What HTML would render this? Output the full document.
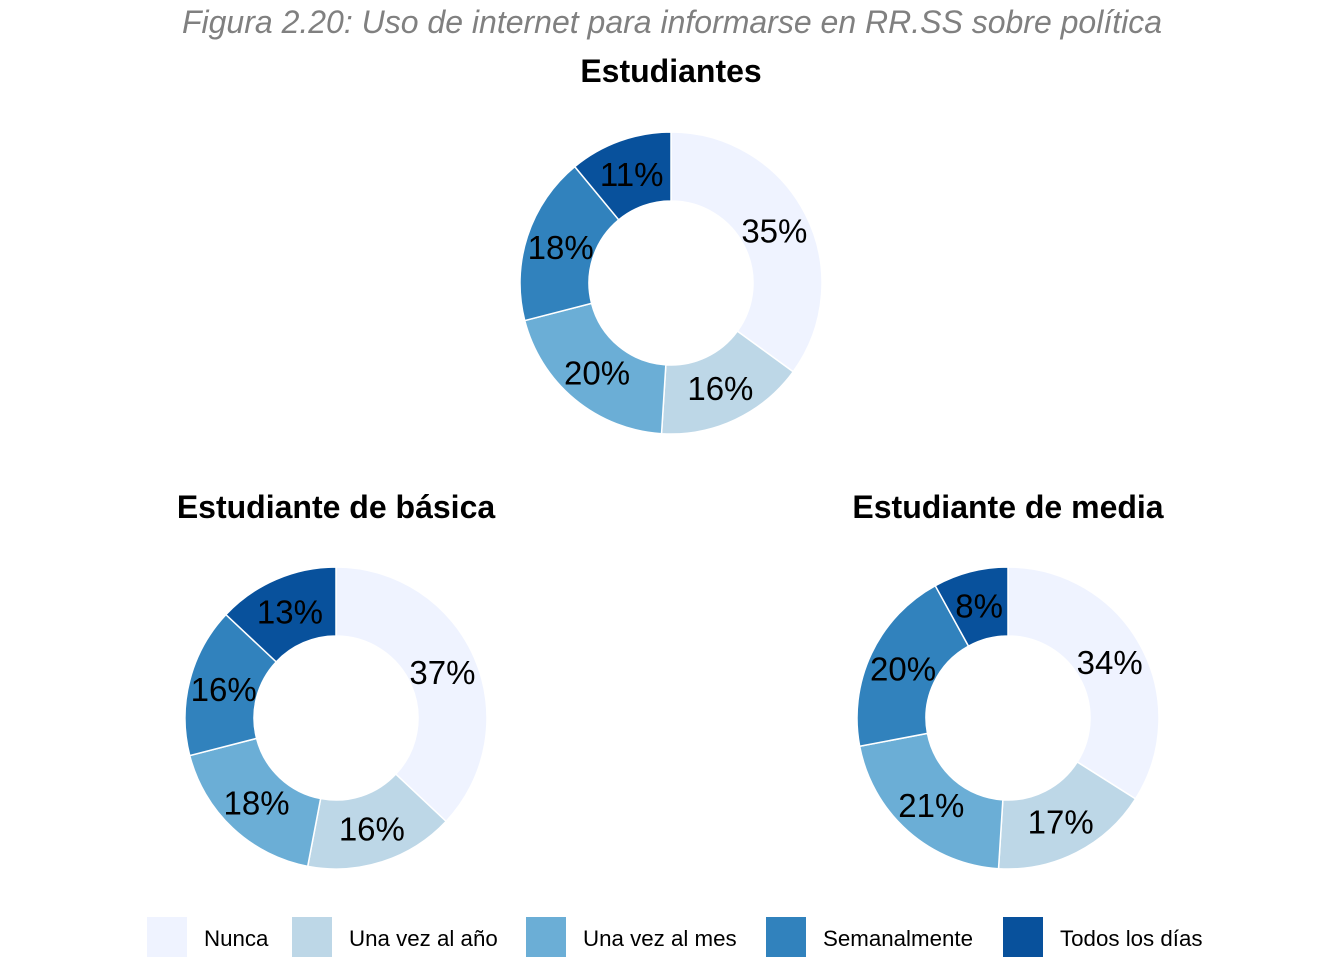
<!DOCTYPE html>
<html><head><meta charset="utf-8"><style>
body{margin:0;background:#fff;}
svg{display:block;font-family:"Liberation Sans",Arial,sans-serif;}
</style></head><body>
<svg id="c" width="1344" height="960">
<text x="672" y="33" text-anchor="middle" font-size="32" font-style="italic" fill="#808080">Figura 2.20: Uso de internet para informarse en RR.SS sobre política</text>
</svg>
<script>
const categories=["Nunca","Una vez al año","Una vez al mes","Semanalmente","Todos los días"];
const panelTitles=["Estudiantes","Estudiante de básica","Estudiante de media"];
const valsEstudiantes=[35,16,20,18,11];
const valsBasica=[37,16,18,16,13];
const valsMedia=[34,17,21,20,8];
const colors=["#EFF3FF","#BDD7E7","#6BAED6","#3182BD","#08519C"];
const NS="http://www.w3.org/2000/svg";
const svg=document.getElementById("c");
function mk(t,a){const e=document.createElementNS(NS,t);for(const k in a)e.setAttribute(k,a[k]);svg.appendChild(e);return e;}
const panels=[{cx:671,cy:283,ty:82,vals:valsEstudiantes},{cx:336,cy:718,ty:518,vals:valsBasica},{cx:1008,cy:718,ty:518,vals:valsMedia}];
const R=151,r=82,LR=116;
function pt(cx,cy,rad,a){return [cx+rad*Math.sin(a),cy-rad*Math.cos(a)];}
panels.forEach((p,pi)=>{
  const t=mk("text",{x:p.cx,y:p.ty,"text-anchor":"middle","font-size":32,"font-weight":"bold",fill:"#000"});
  t.textContent=panelTitles[pi];
  
  
  const tot=p.vals.reduce((a,b)=>a+b,0);
  let acc=0;
  p.vals.forEach((v,i)=>{
    const a0=acc/tot*2*Math.PI;acc+=v;const a1=acc/tot*2*Math.PI;
    const large=(a1-a0)>Math.PI?1:0;
    const [x0,y0]=pt(p.cx,p.cy,R,a0),[x1,y1]=pt(p.cx,p.cy,R,a1),[x2,y2]=pt(p.cx,p.cy,r,a1),[x3,y3]=pt(p.cx,p.cy,r,a0);
    const path=mk("path",{d:`M${x0},${y0}A${R},${R} 0 ${large} 1 ${x1},${y1}L${x2},${y2}A${r},${r} 0 ${large} 0 ${x3},${y3}Z`,fill:colors[i],stroke:"#fff","stroke-width":1.5});
    
    
    const [lx,ly]=pt(p.cx,p.cy,LR,(a0+a1)/2);
    const lt=mk("text",{x:lx,y:ly+12,"text-anchor":"middle","font-size":33,fill:"#000"});
    lt.textContent=v+"%";
    
    
  });
});
const legX=[147,292,526,766,1003];
categories.forEach((c,i)=>{
  const s=mk("rect",{x:legX[i],y:917,width:40,height:40,fill:colors[i]});
  
  
  const t=mk("text",{x:legX[i]+57,y:946,"font-size":22.3,fill:"#000"});
  t.textContent=c;
  
  
});
</script>
</body></html>
